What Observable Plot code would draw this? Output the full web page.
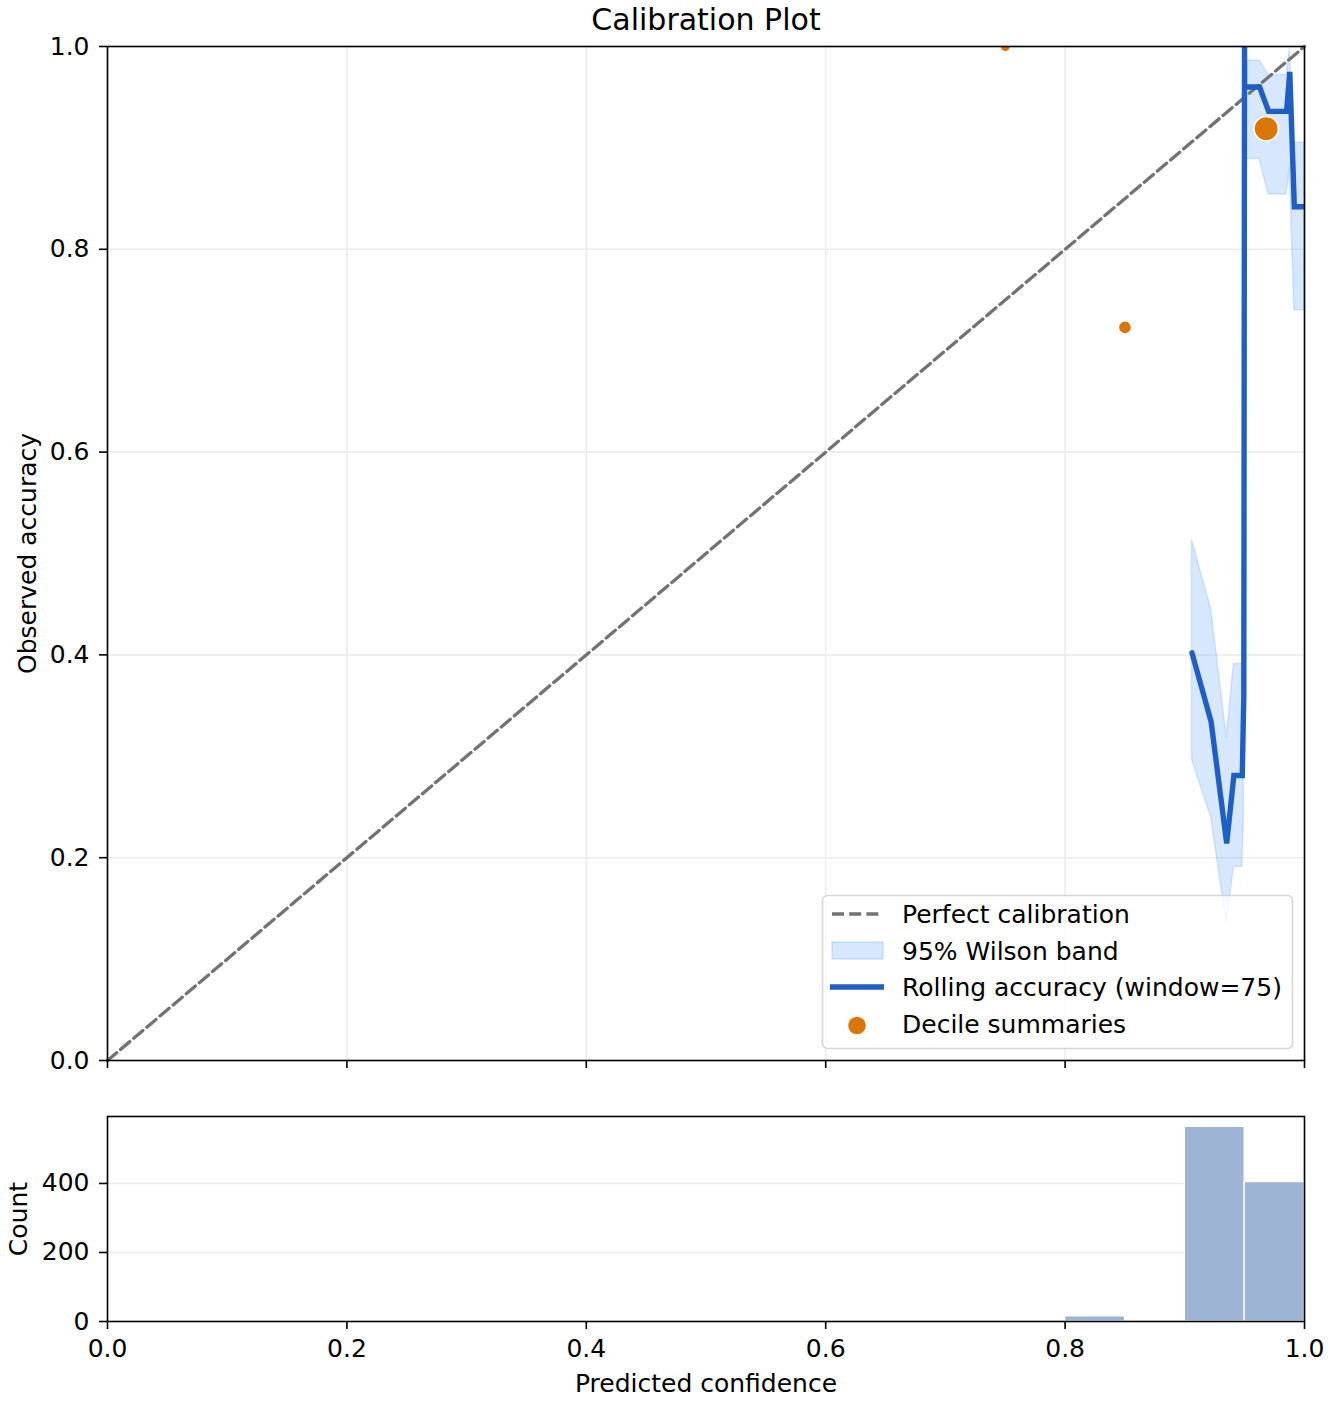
<!DOCTYPE html>
<html>
<head>
<meta charset="utf-8">
<script src="https://cdn.jsdelivr.net/npm/d3@7"></script>
<script src="https://cdn.jsdelivr.net/npm/@observablehq/plot@0.6"></script>
<style>
  html, body { margin: 0; padding: 0; background: #fff; }
  #wrap { position: relative; width: 1332px; height: 1404px; font-family: "DejaVu Sans", sans-serif; }
  #main, #hist, #legend { position: absolute; left: 0; }
  #main { top: 0; }
  #hist { top: 1070px; }
  #legend { left: 821px; top: 894px; }
  svg { display: block; }
</style>
</head>
<body>
<div id="wrap">
  <div id="main"></div>
  <div id="hist"></div>
  <div id="legend"></div>
</div>
<script>
// ---- data ----
const rollConf = [0.906, 0.922, 0.935, 0.941, 0.948, 0.9493, 0.9499, 0.9500, 0.9625, 0.970, 0.985, 0.9877, 0.9915, 1.0];
const rollAcc  = [0.402, 0.334, 0.214, 0.281, 0.281, 0.360, 1.000, 0.960, 0.960, 0.936, 0.936, 0.975, 0.842, 0.842];
const rollLo   = [0.297, 0.240, 0.135, 0.191, 0.191, 0.240, 0.950, 0.889, 0.889, 0.854, 0.854, 0.880, 0.740, 0.740];
const rollHi   = [0.513, 0.445, 0.319, 0.391, 0.391, 0.470, 1.000, 0.986, 0.986, 0.972, 0.972, 0.997, 0.905, 0.905];

const decileConf  = [0.75, 0.85, 0.968];
const decileAcc   = [1.00, 0.723, 0.919];
const decileCount = [2, 16, 982];

const histLo    = [0.80, 0.90, 0.95];
const histHi    = [0.85, 0.95, 1.00];
const histCount = [15, 564, 404];

const diagX = [0, 1];
const xTicks = [0, 0.2, 0.4, 0.6, 0.8, 1.0];
const yTicks = [0, 0.2, 0.4, 0.6, 0.8, 1.0];
const countTicks = [0, 200, 400];

const title = "Calibration Plot";
const xLabel = "Predicted confidence";
const yLabel = "Observed accuracy";
const countLabel = "Count";
const legendLabels = ["Perfect calibration", "95% Wilson band", "Rolling accuracy (window=75)", "Decile summaries"];

// ---- derived tables ----
const rolling = rollConf.map((c, i) => ({conf: c, acc: rollAcc[i], lo: rollLo[i], hi: rollHi[i]}));
const deciles = decileConf.map((c, i) => ({conf: c, acc: decileAcc[i], n: decileCount[i]}));
const hist = histLo.map((l, i) => ({lo: l, hi: histHi[i], n: histCount[i]}));
const diag = diagX.map(v => ({x: v, y: v}));

const FONT = "DejaVu Sans";
const FS = 25;
const BLUE = "#1f5fc4";
const ORANGE = "#d97706";
const BAND = "#60a5fa";
const GRID = "#ebebeb";
const DASH = "#737373";

const mainPlot = Plot.plot({
  width: 1332,
  height: 1070,
  marginLeft: 107,
  marginRight: 28,
  marginTop: 46,
  marginBottom: 10,
  style: {fontFamily: FONT, fontSize: FS + "px", color: "black", background: "transparent", overflow: "visible"},
  x: {domain: [0, 1], nice: false},
  y: {domain: [0, 1], nice: false},
  r: {domain: [2, 16, 982], range: [5.3, 6.6, 12.2]},
  marks: [
    Plot.gridX(xTicks, {stroke: GRID, strokeOpacity: 1, strokeWidth: 1.5}),
    Plot.gridY(yTicks, {stroke: GRID, strokeOpacity: 1, strokeWidth: 1.5}),
    Plot.areaY(rolling, {x: "conf", y1: "lo", y2: "hi", fill: BAND, fillOpacity: 0.25, stroke: BAND, strokeOpacity: 0.25, strokeWidth: 1.5, curve: "linear", clip: true}),
    Plot.line(diag, {x: "x", y: "y", stroke: DASH, strokeWidth: 3.3, strokeDasharray: "12,5.2"}),
    Plot.line(rolling, {x: "conf", y: "acc", stroke: BLUE, strokeWidth: 5.4, strokeLinejoin: "miter", strokeMiterlimit: 4, clip: true}),
    Plot.dot(deciles, {x: "conf", y: "acc", r: "n", fill: ORANGE, stroke: "white", strokeWidth: 1.6, clip: true}),
    Plot.frame({stroke: "black", strokeWidth: 1.6}),
    Plot.axisX(xTicks, {tickSize: 8, strokeWidth: 1.6, tickFormat: () => "", label: null}),
    Plot.axisY(yTicks, {tickSize: 8, tickPadding: 10, strokeWidth: 1.6, tickFormat: d3.format(".1f"), label: null, fontSize: FS}),
    Plot.text([yLabel], {frameAnchor: "left", dx: -80, rotate: -90, fontSize: FS, textAnchor: "middle", lineAnchor: "middle"}),
    Plot.text([title], {frameAnchor: "top", dy: -26, fontSize: 30, textAnchor: "middle", lineAnchor: "middle"})
  ]
});
document.getElementById("main").appendChild(mainPlot);

const histPlot = Plot.plot({
  width: 1332,
  height: 334,
  marginLeft: 107,
  marginRight: 28,
  marginTop: 46,
  marginBottom: 83,
  style: {fontFamily: FONT, fontSize: FS + "px", color: "black", background: "transparent", overflow: "visible"},
  x: {domain: [0, 1], nice: false},
  y: {domain: [0, 594], nice: false},
  marks: [
    Plot.gridY([200, 400], {stroke: GRID, strokeOpacity: 1, strokeWidth: 1.5}),
    Plot.rectY(hist, {x1: "lo", x2: "hi", y: "n", fill: "#9db4d4", stroke: "white", strokeWidth: 1.3}),
    Plot.frame({stroke: "black", strokeWidth: 1.6}),
    Plot.axisX(xTicks, {tickSize: 8, tickPadding: 10, strokeWidth: 1.6, tickFormat: d3.format(".1f"), label: null, fontSize: FS}),
    Plot.axisY(countTicks, {tickSize: 8, tickPadding: 10, strokeWidth: 1.6, tickFormat: d3.format("d"), label: null, fontSize: FS}),
    Plot.text([countLabel], {frameAnchor: "left", dx: -89, rotate: -90, fontSize: FS, textAnchor: "middle", lineAnchor: "middle"}),
    Plot.text([xLabel], {frameAnchor: "bottom", dy: 62, fontSize: FS, textAnchor: "middle", lineAnchor: "middle"})
  ]
});
document.getElementById("hist").appendChild(histPlot);

// ---- legend (matplotlib-style box in lower right) ----
const lg = d3.select("#legend").append("svg")
  .attr("width", 474).attr("height", 158)
  .style("font-family", FONT).style("font-size", FS + "px");
lg.append("rect").attr("x", 1.5).attr("y", 1.5).attr("width", 470).attr("height", 153).attr("rx", 5)
  .attr("fill", "white").attr("fill-opacity", 0.8)
  .attr("stroke", "#cccccc").attr("stroke-opacity", 0.8).attr("stroke-width", 1.6);
const rowY = [20, 56.5, 93, 129.5];
lg.append("line").attr("x1", 11).attr("x2", 61).attr("y1", rowY[0]).attr("y2", rowY[0])
  .attr("stroke", DASH).attr("stroke-width", 3.3).attr("stroke-dasharray", "12,5.2");
lg.append("rect").attr("x", 11).attr("y", rowY[1] - 8.5).attr("width", 51).attr("height", 17)
  .attr("fill", BAND).attr("fill-opacity", 0.25).attr("stroke", BAND).attr("stroke-opacity", 0.25).attr("stroke-width", 1.5);
lg.append("line").attr("x1", 9).attr("x2", 63).attr("y1", rowY[2]).attr("y2", rowY[2])
  .attr("stroke", BLUE).attr("stroke-width", 5.4);
lg.append("circle").attr("cx", 36).attr("cy", rowY[3] + 2).attr("r", 9.6)
  .attr("fill", ORANGE).attr("stroke", "white").attr("stroke-width", 1.6);
legendLabels.forEach((t, i) => {
  lg.append("text").attr("x", 81).attr("y", rowY[i]).attr("dy", "0.36em").attr("fill", "black").text(t);
});
</script>
</body>
</html>
